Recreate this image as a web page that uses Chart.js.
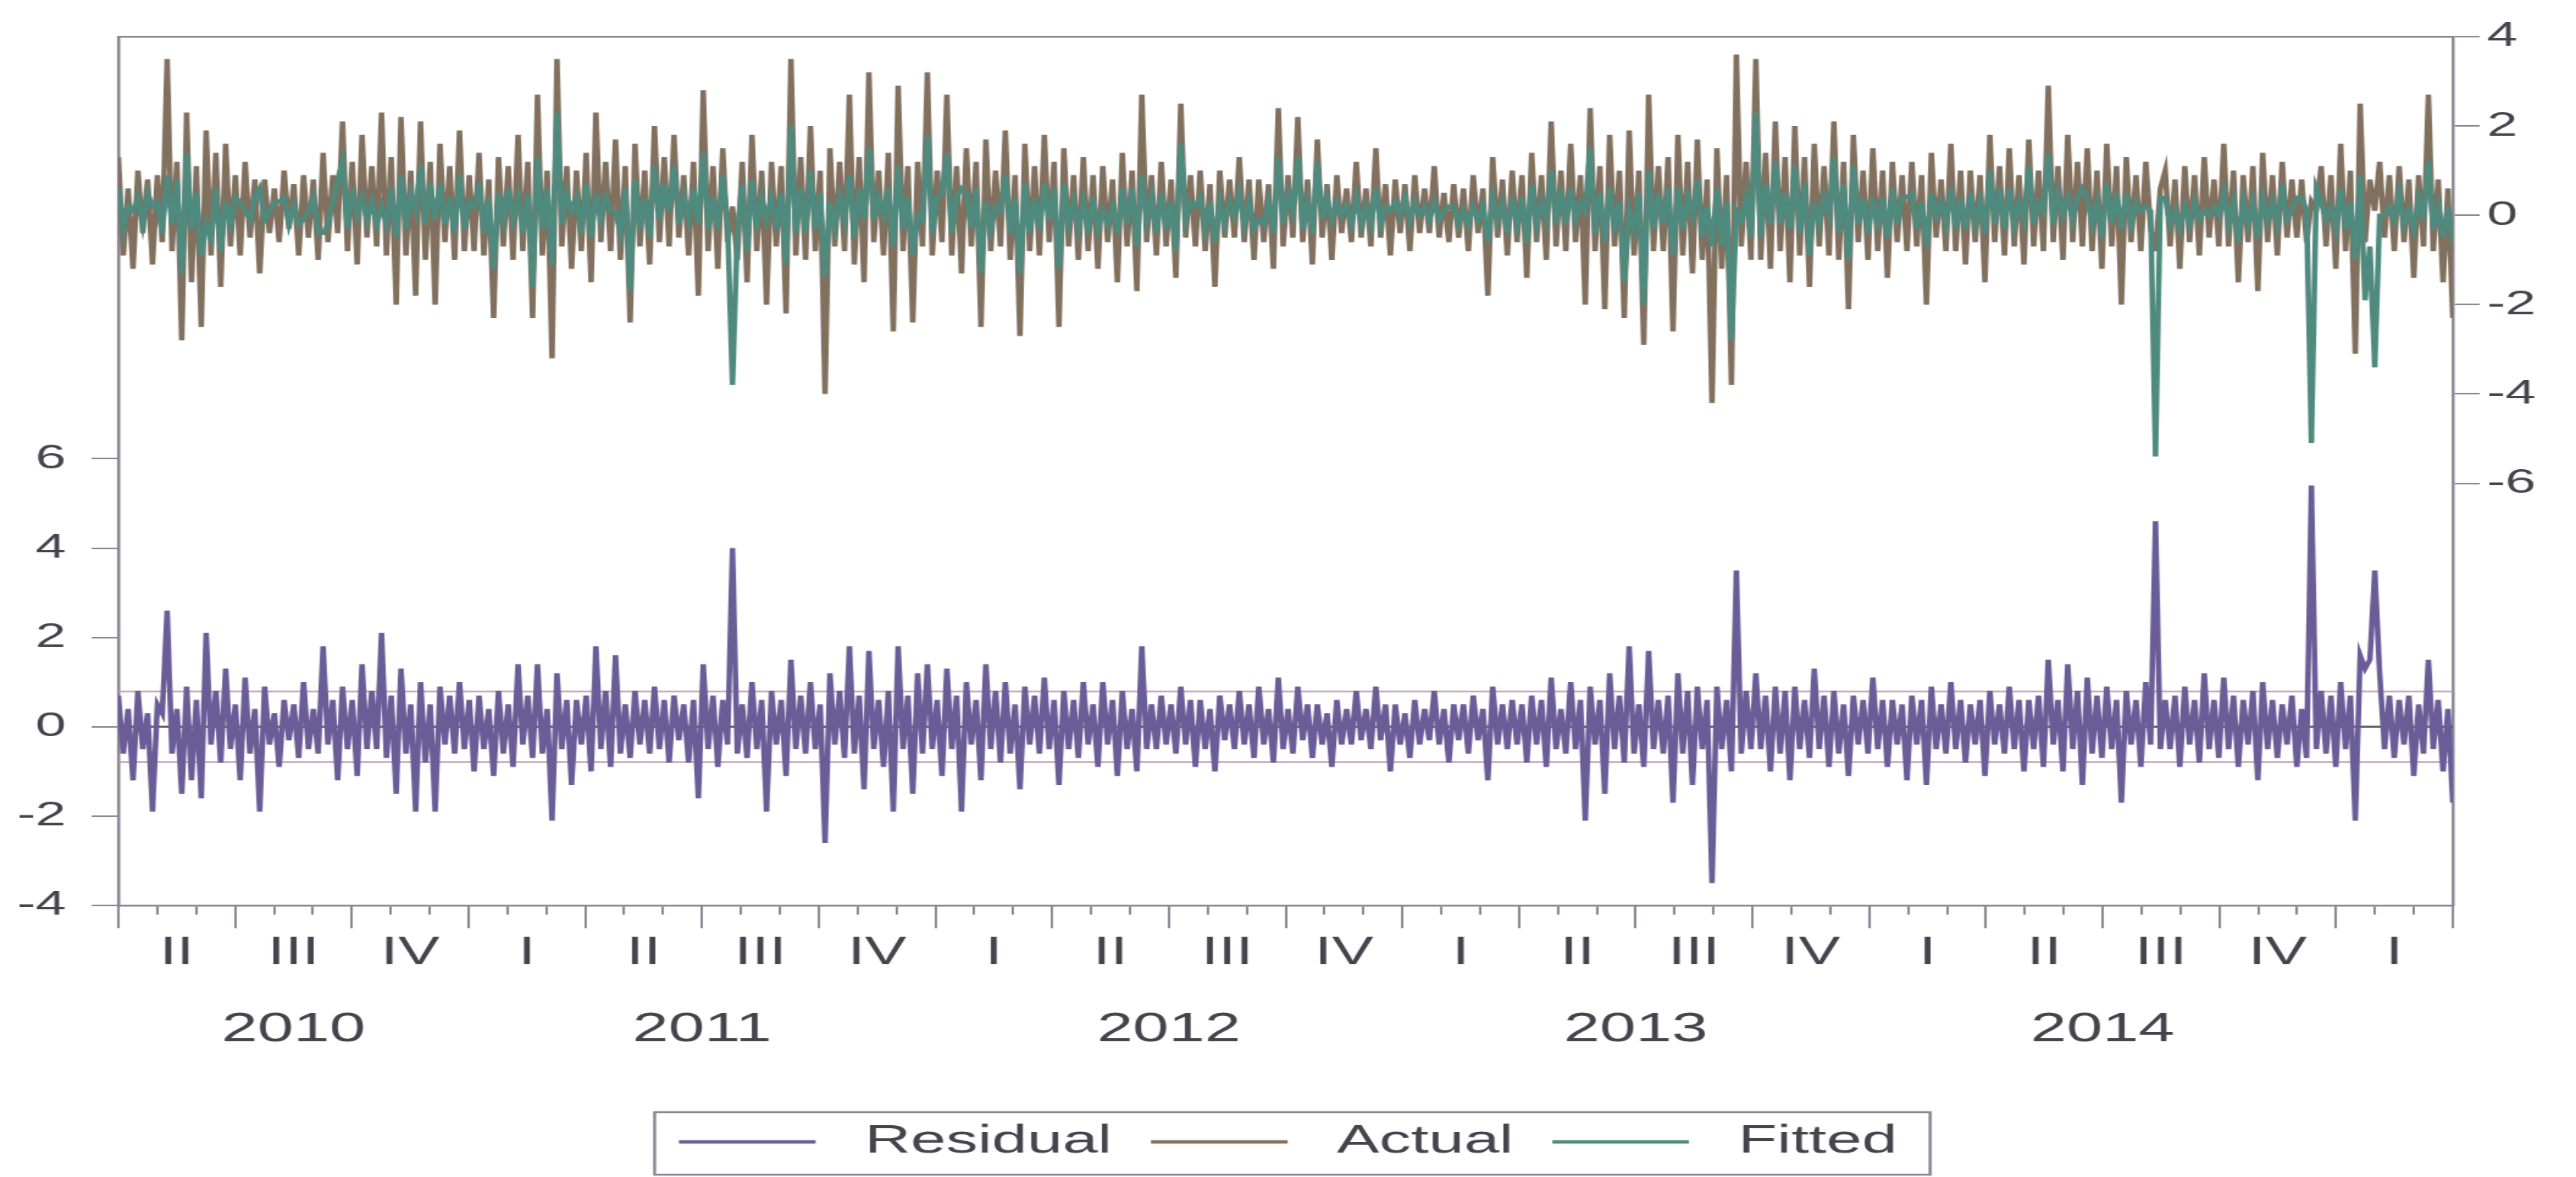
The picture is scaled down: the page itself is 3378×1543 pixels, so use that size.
<!DOCTYPE html>
<html>
<head>
<meta charset="utf-8">
<script src="https://cdn.jsdelivr.net/npm/chart.js@4.4.1/dist/chart.umd.min.js"></script>
<style>
html,body{margin:0;padding:0;background:#fff;overflow:hidden}
#moldura{width:2111px;height:1543px;transform:scaleX(1.6002);transform-origin:0 0}
</style>
</head>
<body>
<div id="moldura"><canvas id="grafico" width="2111" height="1543"></canvas></div>
<script>
// abr/2010 a mar/2015, 8 pontos por mes (uma linha = um mes)
let residuos=[
0.7,-0.6,0.4,-1.2,0.8,-0.5,0.3,-1.9,
0.5,0.3,2.6,-0.6,0.4,-1.5,0.9,-1.2,
0.6,-1.6,2.1,-0.4,0.8,-0.8,1.3,-0.5,
0.5,-1.2,1.1,-0.6,0.4,-1.9,0.9,-0.4,
0.3,-0.9,0.6,-0.3,0.5,-0.7,1.0,-0.5,
0.4,-0.6,1.8,-0.4,0.6,-1.2,0.9,-0.5,
0.6,-1.1,1.4,-0.5,0.8,-0.5,2.1,-0.7,
0.7,-1.5,1.3,-0.6,0.5,-1.9,1.0,-0.8,
0.5,-1.9,0.9,-0.4,0.7,-0.6,1.0,-0.5,
0.6,-1.0,0.7,-0.5,0.4,-1.1,0.8,-0.6,
0.5,-0.9,1.4,-0.4,0.7,-0.7,1.4,-0.6,
0.4,-2.1,1.2,-0.5,0.6,-1.3,0.6,-0.4,
0.7,-1.0,1.8,-0.5,0.8,-0.9,1.6,-0.6,
0.5,-0.7,0.8,-0.4,0.6,-0.6,0.9,-0.5,
0.6,-0.8,0.7,-0.3,0.5,-0.8,0.6,-1.6,
1.4,-0.5,0.7,-0.9,0.6,-0.4,4.0,-0.6,
0.5,-0.7,1.0,-0.5,0.6,-1.9,0.8,-0.4,
0.6,-1.1,1.5,-0.5,0.7,-0.6,1.0,-0.5,
0.5,-2.6,1.2,-0.4,0.8,-0.7,1.8,-0.6,
0.7,-1.4,1.7,-0.5,0.6,-0.9,0.8,-1.9,
1.8,-0.5,0.7,-1.5,1.2,-0.6,1.4,-0.5,
0.6,-1.1,1.3,-0.5,0.7,-1.9,1.0,-0.4,
0.6,-1.2,1.4,-0.5,0.8,-0.8,1.0,-0.6,
0.5,-1.4,0.9,-0.4,0.7,-0.6,1.1,-0.5,
0.6,-1.3,0.8,-0.5,0.6,-0.7,1.0,-0.4,
0.5,-0.9,1.0,-0.4,0.6,-1.1,0.8,-0.5,
0.4,-1.0,1.8,-0.5,0.5,-0.5,0.7,-0.4,
0.5,-0.6,0.9,-0.4,0.6,-0.9,0.6,-0.5,
0.4,-1.0,0.7,-0.3,0.5,-0.5,0.8,-0.4,
0.5,-0.7,0.9,-0.4,0.4,-0.8,1.1,-0.5,
0.4,-0.6,0.9,-0.3,0.5,-0.7,0.5,-0.4,
0.3,-0.9,0.6,-0.4,0.4,-0.4,0.8,-0.3,
0.4,-0.5,0.9,-0.3,0.5,-1.0,0.5,-0.4,
0.3,-0.7,0.6,-0.4,0.4,-0.3,0.8,-0.4,
0.4,-0.8,0.5,-0.3,0.5,-0.6,0.7,-0.3,
0.4,-1.2,0.9,-0.4,0.5,-0.5,0.6,-0.4,
0.5,-0.8,0.7,-0.4,0.6,-0.9,1.1,-0.5,
0.4,-0.6,1.0,-0.5,0.6,-2.1,0.9,-0.4,
0.6,-1.5,1.2,-0.5,0.7,-0.8,1.8,-0.6,
0.5,-0.9,1.7,-0.5,0.6,-0.6,0.7,-1.7,
1.2,-0.6,0.8,-1.3,0.9,-0.5,0.6,-3.5,
0.9,-0.5,0.6,-1.0,3.5,-0.6,0.8,-0.5,
1.2,-0.5,0.7,-1.0,0.9,-0.6,0.8,-1.2,
0.9,-0.5,0.6,-0.7,1.3,-0.5,0.7,-0.9,
0.8,-0.6,0.5,-1.1,0.7,-0.4,0.6,-0.6,
1.1,-0.5,0.6,-0.9,0.6,-0.4,0.5,-1.2,
0.7,-0.4,0.6,-1.3,0.9,-0.5,0.5,-0.6,
1.0,-0.5,0.6,-0.8,0.5,-0.4,0.6,-1.1,
0.8,-0.4,0.5,-0.6,0.9,-0.5,0.6,-1.0,
0.6,-0.5,0.7,-0.9,1.5,-0.4,0.6,-1.0,
1.4,-0.5,0.8,-1.3,1.1,-0.6,0.7,-0.7,
0.9,-0.5,0.6,-1.7,0.8,-0.4,0.6,-0.9,
1.0,-0.4,4.6,-0.5,0.6,-0.5,0.7,-0.9,
0.9,-0.4,0.6,-0.8,1.2,-0.5,0.6,-0.7,
1.1,-0.5,0.7,-0.9,0.6,-0.4,0.8,-1.2,
1.0,-0.5,0.6,-0.7,0.5,-0.4,0.7,-0.9,
0.4,-0.7,5.4,-0.5,0.8,-0.6,0.7,-0.9,
1.0,-0.5,0.7,-2.1,1.6,1.3,1.5,3.5,
1.2,-0.5,0.7,-0.7,0.6,-0.4,0.7,-1.1,
0.5,-0.6,1.5,-0.5,0.6,-1.0,0.4,-1.7
]

let observados=[
1.3,-0.9,0.6,-1.2,1.0,-0.4,0.8,-1.1,
0.9,-0.6,3.5,-0.8,1.2,-2.8,2.3,-1.5,
1.1,-2.5,1.9,-0.9,1.4,-1.6,1.6,-0.7,
0.9,-0.9,1.2,-0.5,0.8,-1.3,0.8,-0.4,
0.6,-0.6,1.0,-0.3,0.7,-0.9,0.9,-0.5,
0.8,-1.0,1.4,-0.6,0.9,-0.4,2.1,-0.8,
1.2,-1.1,1.8,-0.5,1.1,-0.7,2.3,-0.9,
1.3,-2.0,2.2,-0.9,1.0,-1.8,2.1,-1.0,
1.2,-2.0,1.6,-0.6,1.1,-1.0,1.9,-0.8,
0.9,-0.8,1.4,-0.9,0.8,-2.3,1.3,-0.7,
1.1,-1.0,1.8,-0.8,1.2,-2.3,2.7,-0.9,
1.0,-3.2,3.5,-0.7,1.1,-1.2,1.0,-0.8,
1.4,-1.5,2.3,-0.6,1.2,-0.8,1.7,-1.0,
1.1,-2.4,1.6,-0.7,1.0,-1.1,2.0,-0.6,
1.3,-0.7,1.8,-0.5,0.9,-0.9,1.2,-1.8,
2.8,-0.8,1.1,-1.2,1.5,-0.6,0.2,-1.0,
1.2,-1.5,1.8,-0.8,1.0,-2.0,1.2,-0.7,
1.1,-2.2,3.5,-0.9,1.3,-1.0,2.0,-0.8,
1.0,-4.0,1.5,-0.7,1.2,-0.8,2.7,-1.1,
1.3,-1.5,3.2,-0.6,1.0,-0.9,1.4,-2.6,
2.9,-0.8,1.1,-2.4,1.2,-0.7,3.2,-0.9,
1.0,-0.6,2.7,-0.9,1.1,-1.3,1.5,-0.7,
1.2,-2.5,1.7,-0.8,1.0,-0.7,1.9,-1.0,
0.9,-2.7,1.6,-0.8,1.1,-0.9,1.8,-0.6,
1.2,-2.5,1.5,-0.7,0.9,-1.0,1.3,-0.8,
0.9,-1.2,1.1,-0.6,0.8,-1.5,1.4,-0.7,
1.0,-1.7,2.7,-0.6,0.9,-0.9,1.2,-0.7,
0.8,-1.4,2.5,-0.5,0.9,-0.7,1.0,-0.8,
0.7,-1.6,1.0,-0.5,0.8,-0.5,1.3,-0.6,
0.8,-1.0,0.8,-0.6,0.7,-1.2,2.4,-0.7,
0.9,-0.5,2.2,-0.6,0.8,-1.1,1.7,-0.5,
0.7,-1.0,0.9,-0.4,0.6,-0.6,1.2,-0.5,
0.6,-0.7,1.5,-0.5,0.7,-0.9,0.8,-0.4,
0.7,-0.8,0.9,-0.4,0.6,-0.4,1.1,-0.5,
0.5,-0.6,0.7,-0.5,0.6,-0.8,0.9,-0.4,
0.6,-1.8,1.3,-0.5,0.8,-0.9,1.0,-0.6,
0.9,-1.4,1.4,-0.6,0.9,-1.0,2.1,-0.7,
1.0,-0.8,1.6,-0.6,0.9,-2.0,2.4,-0.8,
1.1,-2.1,1.8,-0.7,1.0,-2.3,1.9,-0.9,
1.0,-2.9,2.7,-0.8,1.1,-0.8,1.3,-2.6,
1.8,-0.9,1.2,-1.3,1.7,-1.0,0.8,-4.2,
1.5,-1.2,0.9,-3.8,3.6,-0.7,1.2,-1.0,
3.5,-1.0,1.4,-1.2,2.1,-0.8,1.3,-1.5,
2.0,-0.9,1.3,-1.6,1.6,-0.7,1.1,-0.9,
2.1,-1.0,1.2,-2.1,1.8,-0.6,1.0,-1.0,
1.5,-0.8,1.0,-1.4,1.2,-0.6,0.9,-0.8,
1.2,-0.7,0.9,-2.0,1.4,-0.5,0.8,-0.8,
1.6,-0.8,1.0,-1.1,1.0,-0.6,0.9,-1.5,
1.8,-0.6,1.1,-0.9,1.5,-0.7,0.9,-1.1,
1.7,-0.7,1.0,-0.8,2.9,-0.6,1.1,-1.0,
1.8,-0.6,1.2,-0.7,1.5,-0.8,1.0,-1.2,
1.6,-0.7,1.1,-2.0,1.3,-0.6,0.9,-0.8,
1.2,-0.3,-0.8,0.6,1.0,-0.7,0.8,-1.2,
1.1,-0.6,0.9,-0.9,1.3,-0.5,0.8,-0.7,
1.6,-0.7,1.0,-1.5,0.9,-0.6,1.1,-1.7,
1.4,-0.6,0.9,-0.9,1.2,-0.5,0.8,-0.5,
0.8,-0.6,0.3,0.1,1.1,-0.7,0.9,-1.2,
1.6,-0.8,1.0,-3.1,2.5,-0.6,0.8,0.1,
1.2,-0.5,0.9,-0.8,1.1,-0.6,0.8,-1.4,
0.9,-0.7,2.7,-0.8,0.8,-1.5,0.6,-2.3
]

let ajustados=[
0.6,-0.3,0.2,0.1,0.4,-0.2,0.5,0.2,
0.3,-0.4,0.9,-0.2,0.8,-1.3,1.4,-0.3,
0.5,-0.9,-0.2,-0.5,0.6,-0.8,0.3,-0.2,
0.4,0.3,0.1,-0.1,0.4,0.6,-0.1,0.1,
0.3,0.3,0.4,-0.2,0.2,-0.2,-0.1,0.1,
0.4,-0.4,-0.4,-0.2,0.3,0.8,1.2,-0.3,
0.6,0.0,0.4,-0.1,0.3,-0.2,0.2,-0.2,
0.6,-0.5,0.9,-0.3,0.5,0.1,1.1,-0.2,
0.7,-0.1,0.7,-0.2,0.4,-0.4,0.9,-0.3,
0.3,0.2,0.7,-0.4,0.4,-1.2,0.5,-0.1,
0.6,-0.1,0.4,-0.4,0.5,-1.6,1.3,-0.3,
0.6,-1.1,2.3,-0.2,0.5,0.1,0.4,-0.4,
0.7,-0.5,0.5,-0.1,0.4,0.1,0.1,-0.4,
0.6,-1.7,0.8,-0.3,0.4,-0.5,1.1,-0.1,
0.7,0.1,1.1,-0.2,0.4,-0.1,0.6,-0.2,
1.4,-0.3,0.4,-0.3,0.9,-0.2,-3.8,-0.4,
0.7,-0.8,0.8,-0.3,0.4,-0.1,0.4,-0.3,
0.5,-1.1,2.0,-0.4,0.6,-0.4,1.0,-0.3,
0.5,-1.4,0.3,-0.3,0.4,-0.1,0.9,-0.5,
0.6,-0.1,1.5,-0.1,0.4,0.0,0.6,-0.7,
1.1,-0.3,0.4,-0.9,0.0,-0.1,1.8,-0.4,
0.4,0.5,1.4,-0.4,0.4,0.6,0.5,-0.3,
0.6,-1.3,0.3,-0.3,0.2,0.1,0.9,-0.4,
0.4,-1.3,0.7,-0.4,0.4,-0.3,0.7,-0.1,
0.6,-1.2,0.7,-0.2,0.3,-0.3,0.3,-0.4,
0.4,-0.3,0.1,-0.2,0.2,-0.4,0.6,-0.2,
0.6,-0.7,0.9,-0.1,0.4,-0.4,0.5,-0.3,
0.3,-0.8,1.6,-0.1,0.3,0.2,0.4,-0.3,
0.3,-0.6,0.3,-0.2,0.3,0.0,0.5,-0.2,
0.3,-0.3,-0.1,-0.2,0.3,-0.4,1.3,-0.2,
0.5,0.1,1.3,-0.3,0.3,-0.4,1.2,-0.1,
0.4,-0.1,0.3,0.0,0.2,-0.2,0.4,-0.2,
0.2,-0.2,0.6,-0.2,0.2,0.1,0.3,0.0,
0.4,-0.1,0.3,0.0,0.2,-0.1,0.3,-0.1,
0.1,0.2,0.2,-0.2,0.1,-0.2,0.2,-0.1,
0.2,-0.6,0.4,-0.1,0.3,-0.4,0.4,-0.2,
0.4,-0.6,0.7,-0.2,0.3,-0.1,1.0,-0.2,
0.6,-0.2,0.6,-0.1,0.3,0.1,1.5,-0.4,
0.5,-0.6,0.6,-0.2,0.3,-1.5,0.1,-0.3,
0.5,-2.0,1.0,-0.3,0.5,-0.2,0.6,-0.9,
0.6,-0.3,0.4,0.0,0.8,-0.5,0.2,-0.7,
0.6,-0.7,0.3,-2.8,0.1,-0.1,0.4,-0.5,
2.3,-0.5,0.7,-0.2,1.2,-0.2,0.5,-0.3,
1.1,-0.4,0.7,-0.9,0.3,-0.2,0.4,0.0,
1.3,-0.4,0.7,-1.0,1.1,-0.2,0.4,-0.4,
0.4,-0.3,0.4,-0.5,0.6,-0.2,0.4,0.4,
0.5,-0.3,0.3,-0.7,0.5,0.0,0.3,-0.2,
0.6,-0.3,0.4,-0.3,0.5,-0.2,0.3,-0.4,
1.0,-0.2,0.6,-0.3,0.6,-0.2,0.3,-0.1,
1.1,-0.2,0.3,0.1,1.4,-0.2,0.5,0.0,
0.4,-0.1,0.4,0.6,0.4,-0.2,0.3,-0.5,
0.7,-0.2,0.5,-0.3,0.5,-0.2,0.3,0.1,
0.2,0.1,-5.4,0.4,0.4,-0.2,0.1,-0.3,
0.2,-0.2,0.3,-0.1,0.1,0.0,0.2,0.0,
0.5,-0.2,0.3,-0.6,0.3,-0.2,0.3,-0.5,
0.4,-0.1,0.3,-0.2,0.7,-0.1,0.1,0.4,
0.4,0.1,-5.1,0.6,0.3,-0.1,0.2,-0.3,
0.6,-0.3,0.3,-1.0,0.9,-1.9,-0.7,-3.4,
0.0,0.0,0.2,-0.1,0.5,-0.2,0.1,-0.3,
0.4,-0.1,1.2,-0.3,0.2,-0.5,0.2,-0.6
]

let faixaErro=[0.79,-0.79]

let trimestres=['II','III','IV','I','II','III','IV','I','II','III','IV','I','II','III','IV','I','II','III','IV','I']
let centrosTrimestre=[1.5,4.5,7.5,10.5,13.5,16.5,19.5,22.5,25.5,28.5,31.5,34.5,37.5,40.5,43.5,46.5,49.5,52.5,55.5,58.5]
let anos=['2010','2011','2012','2013','2014']
let centrosAno=[4.5,15,27,39,51]
let ticksEsquerda=[-4,-2,0,2,4,6]
let ticksDireita=[-6,-4,-2,0,2,4]

let fonte="'Liberation Sans', Arial, sans-serif"
let corTexto='#46434c'
let corEixo='#8b8594'

let passo=60/(residuos.length-1)
let pontos=serie=>serie.map((v,i)=>({x:i*passo,y:v}))
let reta=v=>[{x:0,y:v},{x:60,y:v}]

let molduraLegenda={
id:'molduraLegenda',
afterDraw(chart){
let caixas=chart.legend&&chart.legend.legendHitBoxes
if(!caixas||!caixas.length)return
let a=caixas[0]
let b=caixas[caixas.length-1]
let ctx=chart.ctx
ctx.save()
ctx.strokeStyle=corEixo
ctx.lineWidth=2.5
ctx.strokeRect(a.left-20,a.top-13,b.left+b.width-a.left+47,a.height+30)
ctx.restore()
}
}

let eixoX=(extra)=>Object.assign({
type:'linear',
position:'bottom',
min:0,
max:60,
ticks:{display:false},
grid:{drawOnChartArea:false,drawTicks:false,color:corEixo},
border:{display:false}
},extra)

new Chart(document.getElementById('grafico'),{
type:'line',
data:{
datasets:[
{
label:' Residual',
data:pontos(residuos),
xAxisID:'xm',
yAxisID:'y',
borderColor:'#6a5c96',
backgroundColor:'#6a5c96',
borderWidth:4.5,
order:0
},
{
label:' Actual',
data:pontos(observados),
xAxisID:'xm',
yAxisID:'y2',
borderColor:'#82705e',
backgroundColor:'#82705e',
borderWidth:4.5,
order:2
},
{
label:' Fitted',
data:pontos(ajustados),
xAxisID:'xm',
yAxisID:'y2',
borderColor:'#4f8a7e',
backgroundColor:'#4f8a7e',
borderWidth:4.5,
order:1
},
{
label:'zero',
data:reta(0),
xAxisID:'xm',
yAxisID:'y',
borderColor:'#5a5560',
borderWidth:2.5,
order:5
},
{
label:'+se',
data:reta(faixaErro[0]),
xAxisID:'xm',
yAxisID:'y',
borderColor:'rgba(190,150,175,.85)',
borderWidth:2,
order:5
},
{
label:'-se',
data:reta(faixaErro[1]),
xAxisID:'xm',
yAxisID:'y',
borderColor:'rgba(190,150,175,.85)',
borderWidth:2,
order:5
}
]
},
options:{
responsive:false,
maintainAspectRatio:false,
animation:false,
events:[],
layout:{padding:{left:0,right:0,top:37,bottom:10}},
elements:{
point:{radius:0},
line:{tension:0,borderJoinStyle:'miter'}
},
plugins:{
tooltip:{enabled:false},
legend:{
position:'bottom',
labels:{
usePointStyle:true,
pointStyle:'line',
pointStyleWidth:112,
padding:32,
color:corTexto,
font:{family:fonte,size:52},
filter:item=>item.datasetIndex<3,
sort:(a,b)=>a.datasetIndex-b.datasetIndex
}
}
},
scales:{
xt:{
type:'linear',
position:'top',
min:0,
max:60,
ticks:{display:false},
grid:{drawOnChartArea:false,drawTicks:false},
border:{display:true,color:corEixo,width:2.5},
afterFit:s=>{s.height=0}
},
xm:eixoX({
weight:0,
grid:{drawOnChartArea:false,drawTicks:true,tickLength:12,color:corEixo,lineWidth:2},
border:{display:true,color:corEixo,width:2.5},
afterBuildTicks:s=>{s.ticks=Array.from({length:61},(_,i)=>({value:i}))},
afterFit:s=>{s.height=0}
}),
xq:eixoX({
weight:1,
grid:{drawOnChartArea:false,drawTicks:true,tickLength:30,color:corEixo,lineWidth:2},
afterBuildTicks:s=>{s.ticks=Array.from({length:21},(_,i)=>({value:i*3}))},
afterFit:s=>{s.height=0}
}),
xl:eixoX({
weight:2,
grid:{display:false,drawTicks:false},
ticks:{
display:true,
autoSkip:false,
maxRotation:0,
padding:32,
color:corTexto,
font:{family:fonte,size:51},
callback:(v,i)=>trimestres[i]
},
afterBuildTicks:s=>{s.ticks=centrosTrimestre.map(v=>({value:v}))},
afterFit:s=>{s.height=90}
}),
xy:eixoX({
weight:3,
grid:{display:false,drawTicks:false},
ticks:{
display:true,
autoSkip:false,
maxRotation:0,
padding:42,
color:corTexto,
font:{family:fonte,size:53},
callback:(v,i)=>anos[i]
},
afterBuildTicks:s=>{s.ticks=centrosAno.map(v=>({value:v}))},
afterFit:s=>{s.height=162}
}),
y:{
type:'linear',
position:'left',
min:-4,
max:15.45,
grid:{drawOnChartArea:false,tickLength:22,color:corEixo,lineWidth:2},
border:{display:true,color:corEixo,width:2.5},
ticks:{
padding:21,
color:corTexto,
font:{family:fonte,size:45}
},
afterBuildTicks:s=>{s.ticks=ticksEsquerda.map(v=>({value:v}))},
afterFit:s=>{s.width=97}
},
y2:{
type:'linear',
position:'right',
min:-15.45,
max:4,
grid:{drawOnChartArea:false,tickLength:22,color:corEixo,lineWidth:2},
border:{display:true,color:corEixo,width:2.5},
ticks:{
padding:6,
color:corTexto,
font:{family:fonte,size:45}
},
afterBuildTicks:s=>{s.ticks=ticksDireita.map(v=>({value:v}))},
afterFit:s=>{s.width=101}
}
}
},
plugins:[molduraLegenda]
})
</script>
</body>
</html>
